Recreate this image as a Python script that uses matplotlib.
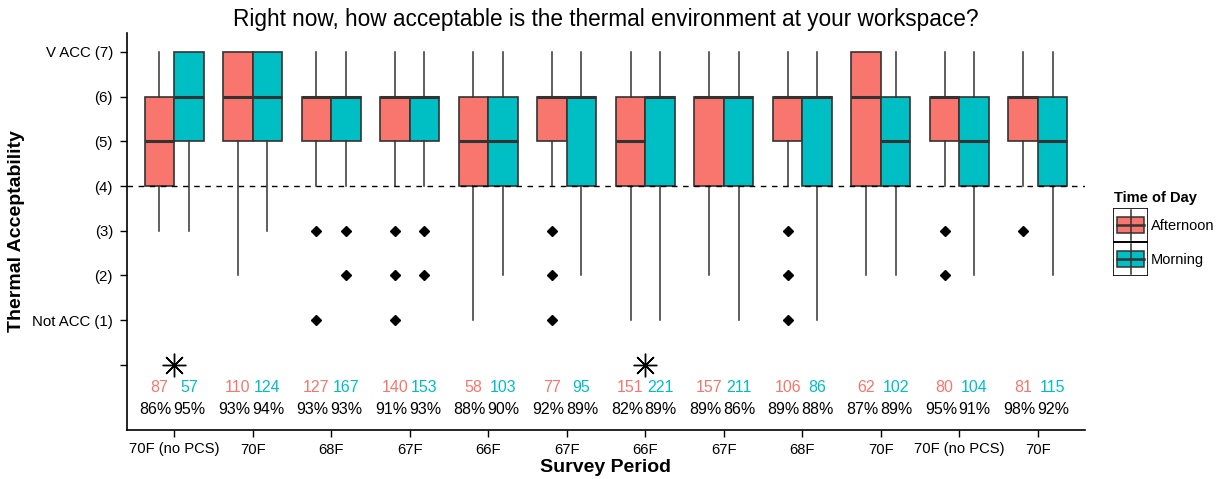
import matplotlib
matplotlib.use('Agg')
import matplotlib.pyplot as plt
from matplotlib.patches import Rectangle

plt.rcParams['font.family'] = ['Liberation Sans', 'DejaVu Sans']

periods = ['70F (no PCS)', '70F', '68F', '67F', '66F', '67F', '66F',
           '67F', '68F', '70F', '70F (no PCS)', '70F']

# (q1, median, q3, whisker low, whisker high) for each survey period
afternoon_box = [(4, 5, 6, 3, 7), (5, 6, 7, 2, 7), (5, 6, 6, 4, 7), (5, 6, 6, 4, 7),
                 (4, 5, 6, 1, 7), (5, 6, 6, 4, 7), (4, 5, 6, 1, 7), (4, 6, 6, 2, 7),
                 (5, 6, 6, 4, 7), (4, 6, 7, 2, 7), (5, 6, 6, 4, 7), (5, 6, 6, 4, 7)]
afternoon_out = [[], [], [3, 1], [3, 2, 1], [], [3, 2, 1], [], [], [3, 2, 1], [], [3, 2], [3]]
morning_box = [(5, 6, 7, 3, 7), (5, 6, 7, 3, 7), (5, 6, 6, 4, 7), (5, 6, 6, 4, 7),
               (4, 5, 6, 2, 7), (4, 6, 6, 2, 7), (4, 6, 6, 1, 7), (4, 6, 6, 1, 7),
               (4, 6, 6, 1, 7), (4, 5, 6, 2, 7), (4, 5, 6, 2, 7), (4, 5, 6, 2, 7)]
morning_out = [[], [], [3, 2], [3, 2], [], [], [], [], [], [], [], []]

afternoon_n = [87, 110, 127, 140, 58, 77, 151, 157, 106, 62, 80, 81]
morning_n = [57, 124, 167, 153, 103, 95, 221, 211, 86, 102, 104, 115]
afternoon_pct = [86, 93, 93, 91, 88, 92, 82, 89, 89, 87, 95, 98]
morning_pct = [95, 94, 93, 93, 90, 89, 89, 86, 88, 89, 91, 92]
significant = [True, False, False, False, False, False, True,
               False, False, False, False, False]

y_ticks = [7, 6, 5, 4, 3, 2, 1, 0]
y_labels = ['V ACC (7)', '(6)', '(5)', '(4)', '(3)', '(2)', 'Not ACC (1)', '']

red = '#F8766D'
teal = '#00BFC4'
edge = '#333333'

W, H = 1224, 479
fig = plt.figure(figsize=(W / 100, H / 100), dpi=100)
ax = fig.add_axes([127 / W, 1 - 430 / H, (1085 - 127) / W, (430 - 33) / H])


def stats(box, out):
    q1, med, q3, lo, hi = box
    return dict(q1=q1, med=med, q3=q3, whislo=lo, whishi=hi, fliers=out)


x = list(range(1, len(periods) + 1))
off = 0.1875
for boxes, outs, col, sgn in [(afternoon_box, afternoon_out, red, -1),
                              (morning_box, morning_out, teal, 1)]:
    ax.bxp([stats(b, o) for b, o in zip(boxes, outs)],
           positions=[i + sgn * off for i in x], widths=0.375,
           patch_artist=True, showcaps=False,
           boxprops=dict(facecolor=col, edgecolor=edge, linewidth=1.2),
           whiskerprops=dict(color=edge, linewidth=1.1),
           medianprops=dict(color=edge, linewidth=2.2),
           flierprops=dict(marker='D', markerfacecolor='black',
                           markeredgecolor='black', markersize=5),
           zorder=3)

ax.axhline(4, color='black', linestyle=(0, (4, 4)), linewidth=1, zorder=4)

for i in x:
    k = i - 1
    ax.text(i - off, -0.5, str(afternoon_n[k]), color=red, ha='center',
            va='center', fontsize=11.5)
    ax.text(i + off, -0.5, str(morning_n[k]), color=teal, ha='center',
            va='center', fontsize=11.5)
    ax.text(i - 0.03, -1.0, '%d%%' % afternoon_pct[k], color='black',
            ha='right', va='center', fontsize=11.5)
    ax.text(i - 0.01, -1.0, '%d%%' % morning_pct[k], color='black',
            ha='left', va='center', fontsize=11.5)
    if significant[k]:
        ax.plot(i, 0, marker=(8, 2, 0), color='black', markersize=17,
                markeredgewidth=1)

ax.set_xlim(0.4, 12.6)
ax.set_ylim(-1.46, 7.425)
ax.set_xticks(x)
ax.set_xticklabels(periods, fontsize=10.6)
ax.set_yticks(y_ticks)
ax.set_yticklabels(y_labels, fontsize=10.8)
ax.tick_params(direction='out', length=5, width=1, color='black')
ax.tick_params(axis='y', pad=5)
ax.tick_params(axis='x', pad=4)
for s in ['top', 'right']:
    ax.spines[s].set_visible(False)
for s in ['left', 'bottom']:
    ax.spines[s].set_linewidth(1.2)

ax.set_title('Right now, how acceptable is the thermal environment at your workspace?',
             fontsize=16.3, pad=5)
ax.set_xlabel('Survey Period', fontsize=14, fontweight='bold', labelpad=2)
ax.set_ylabel('Thermal Acceptability', fontsize=14, fontweight='bold', labelpad=5)

# legend drawn as boxplot glyphs
lg = fig.add_axes([1113 / W, 1 - 276 / H, 35 / W, 68 / H])
lg.set_xlim(0, 1)
lg.set_ylim(0, 2)
lg.axis('off')
for j, col in enumerate([red, teal]):
    y0 = 1 - j
    lg.add_patch(Rectangle((0, y0), 1, 1, fill=False, edgecolor='black', lw=1.2))
    lg.plot([0.5, 0.5], [y0 + 0.05, y0 + 0.95], color=edge, lw=1.1)
    lg.add_patch(Rectangle((0.12, y0 + 0.27), 0.76, 0.46, facecolor=col,
                           edgecolor=edge, lw=1.1))
    lg.plot([0.12, 0.88], [y0 + 0.5, y0 + 0.5], color=edge, lw=1.8)
fig.text(1114 / W, 1 - 198 / H, 'Time of Day', fontsize=10.5, fontweight='bold',
         va='center', ha='left')
fig.text(1151 / W, 1 - 226 / H, 'Afternoon', fontsize=10.5, va='center', ha='left')
fig.text(1151 / W, 1 - 260 / H, 'Morning', fontsize=10.5, va='center', ha='left')

fig.savefig('out.png', dpi=100)
